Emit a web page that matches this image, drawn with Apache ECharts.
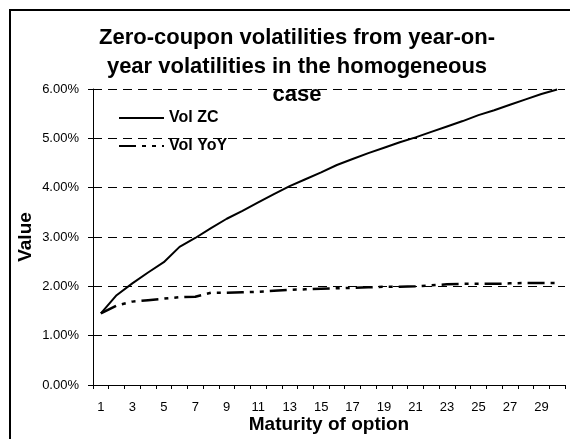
<!DOCTYPE html>
<html>
<head>
<meta charset="utf-8">
<script src="https://cdn.jsdelivr.net/npm/echarts@6/dist/echarts.min.js"></script>
<style>
html,body{margin:0;padding:0;background:#fff;}
#chart{width:570px;height:439px;}
</style>
</head>
<body>
<div id="chart"></div>
<script>
const maturities = ['1','2','3','4','5','6','7','8','9','10','11','12','13','14','15','16','17','18','19','20','21','22','23','24','25','26','27','28','29','30'];
const volZC = [1.45,1.82,2.06,2.28,2.49,2.80,2.98,3.18,3.37,3.53,3.70,3.87,4.03,4.17,4.31,4.46,4.58,4.70,4.81,4.92,5.02,5.13,5.24,5.35,5.47,5.57,5.68,5.79,5.90,5.99];
const volYoY = [1.45,1.61,1.69,1.72,1.75,1.78,1.79,1.87,1.87,1.88,1.89,1.91,1.93,1.94,1.95,1.96,1.97,1.98,1.99,1.99,2.00,2.02,2.04,2.05,2.05,2.05,2.06,2.07,2.07,2.07];
const seriesNames = ['Vol ZC','Vol YoY'];
const titleText = 'Zero-coupon volatilities from year-on-\nyear volatilities in the homogeneous\ncase';

const chart = echarts.init(document.getElementById('chart'), null, {renderer:'canvas'});
const FONT = 'Liberation Sans, Arial, sans-serif';
chart.setOption({
  animation:false,
  backgroundColor:'#fff',
  textStyle:{fontFamily:FONT},
  title:{
    text:titleText,
    left:292, top:19, textAlign:'center',
    textStyle:{fontFamily:FONT,fontSize:22,fontWeight:'bold',color:'#000',lineHeight:28.5}
  },
  legend:{
    orient:'vertical', left:113, top:105,
    itemWidth:45, itemHeight:14, itemGap:12,
    data:seriesNames,
    itemStyle:{opacity:0},
    textStyle:{fontFamily:FONT,fontSize:16,fontWeight:'bold',color:'#000'}
  },
  grid:{left:93,right:5,top:89,bottom:52,containLabel:false},
  xAxis:{
    type:'category', data:maturities, boundaryGap:true,
    name:'Maturity of option', nameLocation:'middle', nameGap:30, nameMoveOverlap:false,
    nameTextStyle:{fontFamily:FONT,fontSize:19,fontWeight:'bold',color:'#000'},
    axisLine:{lineStyle:{color:'#000',width:1}},
    axisTick:{show:true,interval:0,length:4,lineStyle:{color:'#000'}},
    axisLabel:{interval:1,margin:16,fontFamily:FONT,fontSize:13,color:'#000'},
    splitLine:{show:false}
  },
  yAxis:{
    type:'value', min:0, max:6, interval:1,
    name:'Value', nameLocation:'middle', nameGap:58, nameRotate:90, nameMoveOverlap:false,
    nameTextStyle:{fontFamily:FONT,fontSize:19,fontWeight:'bold',color:'#000'},
    axisLine:{show:true,lineStyle:{color:'#000',width:1}},
    axisTick:{show:true,length:5,lineStyle:{color:'#000'}},
    axisLabel:{margin:14,fontFamily:FONT,fontSize:13,color:'#000',formatter:v=>v.toFixed(2)+'%'},
    splitLine:{show:true,lineStyle:{color:'#000',width:1,type:[9,6]}}
  },
  series:[
    {name:seriesNames[0],type:'line',data:volZC,symbol:'none',
     lineStyle:{color:'#000',width:2,type:'solid'},itemStyle:{color:'#000'}},
    {name:seriesNames[1],type:'line',data:volYoY,symbol:'none',
     lineStyle:{color:'#000',width:2.5,type:[17,6,4,6,4,6]},itemStyle:{color:'#000'}}
  ],
  graphic:[
    {type:'rect',shape:{x:10,y:10,width:600,height:500},
     style:{fill:null,stroke:'#000',lineWidth:2},silent:true,z:100}
  ]
});
</script>
</body>
</html>
